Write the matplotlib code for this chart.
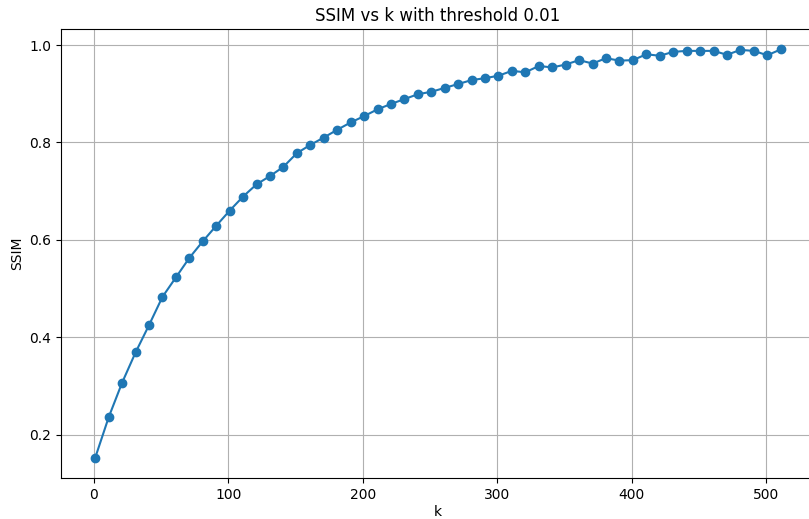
import numpy as np
import matplotlib
matplotlib.use('Agg')
import matplotlib.pyplot as plt

k_values = list(range(1, 512, 10))
ssim_values = [
    0.153, 0.236, 0.307, 0.369, 0.425, 0.483, 0.523, 0.563, 0.597, 0.629,
    0.660, 0.689, 0.714, 0.731, 0.750, 0.778, 0.795, 0.810, 0.826, 0.841,
    0.854, 0.868, 0.879, 0.889, 0.899, 0.904, 0.912, 0.920, 0.928, 0.932,
    0.937, 0.947, 0.944, 0.957, 0.954, 0.960, 0.969, 0.962, 0.973, 0.968,
    0.969, 0.981, 0.978, 0.986, 0.988, 0.988, 0.988, 0.980, 0.990, 0.988,
    0.979, 0.991,
]


def plot_ssim(k, ssim, threshold):
    fig = plt.figure(figsize=(8.09, 5.19), dpi=100)
    # the original screenshot is cut off on the right, so the axes run past the edge
    ax = fig.add_axes([0.0754, 0.079, 0.932, 0.8651])
    ax.plot(k, ssim, marker='o')
    ax.set_title(f'SSIM vs k with threshold {threshold}')
    ax.set_xlabel('k', labelpad=2.5)
    ax.set_ylabel('SSIM')
    ax.grid(True)
    fig.savefig('out.png', dpi=100)


if __name__ == "__main__":
    plot_ssim(k_values, ssim_values, 0.01)
